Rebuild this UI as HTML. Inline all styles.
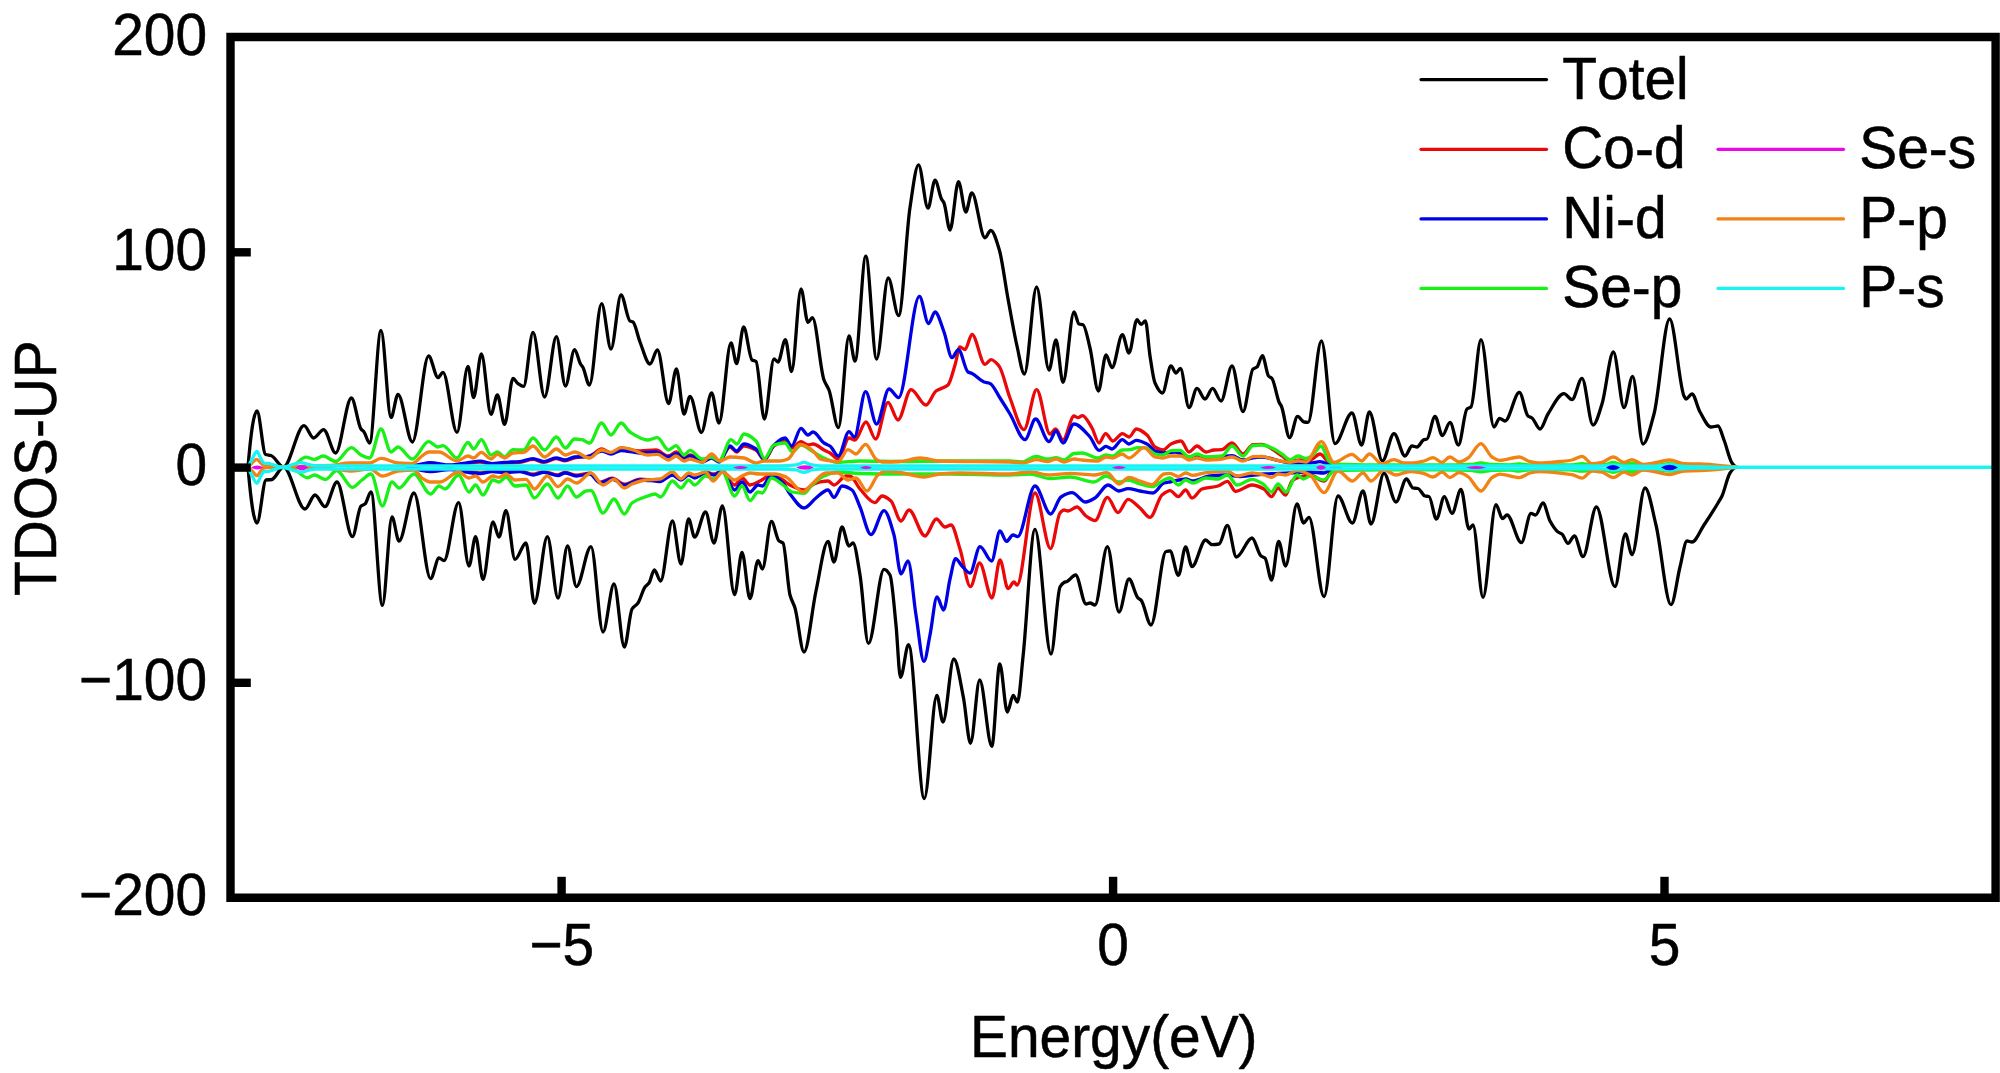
<!DOCTYPE html>
<html><head><meta charset="utf-8"><title>TDOS</title>
<style>
html,body{margin:0;padding:0;background:#fff;}
body{width:2000px;height:1073px;position:relative;overflow:hidden;font-family:"Liberation Sans",sans-serif;}
</style></head><body>
<svg width="2000" height="1073" viewBox="0 0 2000 1073" style="position:absolute;left:0;top:0">
<rect x="0" y="0" width="2000" height="1073" fill="#ffffff"/>
<g fill="none" stroke-linejoin="round" stroke-linecap="round" stroke-width="3.3">
<path stroke="#000000" d="M248,467C251,431 254,411 257,411C259.9,411 262.7,453.5 265.6,454.5C267.4,455.1 269.2,455 271,455.5C275.2,456.7 279.3,467 283.5,467C290.3,467 297.2,425.6 304,425.6C307.2,425.6 310.4,438 313.6,438C316.9,438 320.3,429.6 323.6,429.6C327.6,429.6 331.6,453 335.6,453C340.9,453 346.1,398 351.4,398C354.6,398 357.8,424.5 361,429C362,430.4 363,430.7 364,432C365.9,434.4 367.7,443 369.6,443C373.4,443 377.2,330.4 381,330.4C384.3,330.4 387.7,417.6 391,417.6C393.3,417.6 395.7,394.4 398,394.4C402.8,394.4 407.6,442 412.4,442C417.8,442 423.2,356 428.6,356C431.7,356 434.9,377.6 438,377.6C439.7,377.6 441.3,372.4 443,372.4C447.7,372.4 452.3,432.4 457,432.4C460.7,432.4 464.3,366.4 468,366.4C469.9,366.4 471.7,397.6 473.6,397.6C476.2,397.6 478.8,354 481.4,354C484.6,354 487.8,414.4 491,414.4C493.1,414.4 495.3,395 497.4,395C499.8,395 502.2,424.4 504.6,424.4C507.4,424.4 510.2,378.4 513,378.4C514.7,378.4 516.3,382.5 518,383.6C519.9,384.9 521.7,386.4 523.6,386.4C526.7,386.4 529.9,332.4 533,332.4C536.9,332.4 540.7,397 544.6,397C548.5,397 552.5,336.6 556.4,336.6C559.4,336.6 562.4,386 565.4,386C568.5,386 571.5,349.6 574.6,349.6C576.6,349.6 578.5,360.6 580.5,364C581.3,365.4 582.2,366 583,367.5C585.1,371.3 587.3,385 589.4,385C593.5,385 597.5,303.6 601.6,303.6C604.7,303.6 607.9,349 611,349C614.3,349 617.7,295 621,295C624,295 627,319.4 630,321C631,321.5 632,321.5 633,322C635.3,323.3 637.7,336.2 640,342C643.3,350.4 646.7,364 650,364C652.5,364 654.9,350 657.4,350C661.1,350 664.9,403.6 668.6,403.6C671.2,403.6 673.8,369 676.4,369C678.9,369 681.5,414 684,414C686,414 688,396.4 690,396.4C693.8,396.4 697.6,432.4 701.4,432.4C704.8,432.4 708.2,393 711.6,393C714.1,393 716.5,423 719,423C723,423 727,343 731,343C732.9,343 734.7,363.6 736.6,363.6C738.9,363.6 741.3,327 743.6,327C746.4,327 749.2,358.3 752,360C753.3,360.8 754.7,360.6 756,361.5C758.8,363.3 761.6,419 764.4,419C767.6,419 770.8,359 774,359C775.3,359 776.7,362 778,362C780.5,362 782.9,339.6 785.4,339.6C787.5,339.6 789.5,371.6 791.6,371.6C794.7,371.6 797.9,289 801,289C803.3,289 805.7,322.4 808,322.4C809.5,322.4 810.9,317.6 812.4,317.6C816.3,317.6 820.1,369.4 824,380C825.7,384.6 827.3,385.7 829,390C832.1,398.1 835.3,427.6 838.4,427.6C841.9,427.6 845.5,336 849,336C851,336 853,361 855,361C858.6,361 862.2,256.2 865.8,256.2C869.4,256.2 873,359 876.6,359C880.5,359 884.4,278 888.2,278C891.7,278 895.1,315.6 898.6,315.6C902.4,315.6 906.2,232.1 910,207.5C912.8,189.2 915.7,164.8 918.5,164.8C921.7,164.8 924.8,208.2 928,208.2C930.3,208.2 932.7,180.2 935,180.2C937.2,180.2 939.3,194.7 941.5,199C942.3,200.6 943.2,201.2 944,203C946,207.4 948,230 950,230C952.8,230 955.7,181.7 958.5,181.7C960.9,181.7 963.4,212 965.8,212C967.8,212 969.8,192.8 971.8,192.8C976.2,192.8 980.6,237.8 985,237.8C986.9,237.8 988.8,230.3 990.7,230.3C993.6,230.3 996.4,240.3 999.2,249.5C1002,258.4 1004.8,281 1007.5,296C1010.7,313.3 1013.8,332.2 1017,346C1019.5,356.8 1021.9,374 1024.4,374C1028.5,374 1032.5,287 1036.6,287C1040.7,287 1044.9,370 1049,370C1051.3,370 1053.7,340 1056,340C1058.3,340 1060.7,382.4 1063,382.4C1066.7,382.4 1070.3,312 1074,312C1075.7,312 1077.3,323.4 1079,324C1080.3,324.5 1081.7,324.3 1083,324.8C1085.3,325.6 1087.7,338.7 1090,348C1092.8,359.2 1095.6,391 1098.4,391C1100.9,391 1103.5,355 1106,355C1108,355 1110,367.6 1112,367.6C1115.5,367.6 1118.9,334.6 1122.4,334.6C1124.6,334.6 1126.8,353 1129,353C1131.7,353 1134.3,319.6 1137,319.6C1138.3,319.6 1139.7,324.4 1141,324.4C1142.5,324.4 1143.9,321 1145.4,321C1146.9,321 1148.5,346.3 1150,356C1151.7,366.6 1153.3,379.3 1155,383C1157.5,388.5 1159.9,393 1162.4,393C1165.3,393 1168.1,366 1171,366C1172.7,366 1174.3,373 1176,373C1177.5,373 1178.9,368.4 1180.4,368.4C1183.3,368.4 1186.1,407.6 1189,407.6C1191.7,407.6 1194.3,388.4 1197,388.4C1199.7,388.4 1202.3,399 1205,399C1207.5,399 1210.1,388.4 1212.6,388.4C1215.4,388.4 1218.2,401 1221,401C1224.7,401 1228.3,366 1232,366C1235.7,366 1239.3,411.6 1243,411.6C1246.3,411.6 1249.7,371.7 1253,369C1254.3,367.9 1255.7,368 1257,367C1258.8,365.6 1260.6,355.6 1262.4,355.6C1264.4,355.6 1266.5,373.7 1268.5,376C1269.7,377.3 1270.8,377.2 1272,378.5C1274.3,381.1 1276.7,396.8 1279,402C1279.8,403.9 1280.7,404.6 1281.5,406.5C1284.2,412.7 1286.9,437.6 1289.6,437.6C1292.3,437.6 1294.9,416.4 1297.6,416.4C1299.7,416.4 1301.9,421.6 1304,422C1305.3,422.2 1306.7,422.4 1308,422.4C1312.5,422.4 1316.9,341 1321.4,341C1325.9,341 1330.5,443.6 1335,443.6C1340.7,443.6 1346.3,413 1352,413C1355.2,413 1358.4,445 1361.6,445C1364.2,445 1366.8,412 1369.4,412C1373.7,412 1378.1,461 1382.4,461C1386.3,461 1390.1,433.6 1394,433.6C1397.7,433.6 1401.3,456 1405,456C1407.3,456 1409.7,446 1412,446C1413.7,446 1415.3,447 1417,447C1419.3,447 1421.7,440.3 1424,439.6C1425,439.3 1426,439.3 1427,439C1429.7,438.1 1432.3,416.4 1435,416.4C1437.5,416.4 1439.9,435.6 1442.4,435.6C1444.9,435.6 1447.5,422.4 1450,422.4C1452.8,422.4 1455.6,445 1458.4,445C1461.3,445 1464.1,411.3 1467,409C1468.3,407.9 1469.7,408.1 1471,407C1474.3,404.2 1477.7,339.6 1481,339.6C1485.3,339.6 1489.7,427 1494,427C1495.9,427 1497.7,418.4 1499.6,418.4C1501.4,418.4 1503.2,421 1505,421C1509.8,421 1514.6,392.4 1519.4,392.4C1522.3,392.4 1525.1,413.8 1528,416C1529.3,417 1530.7,417.1 1532,418C1534.7,419.9 1537.3,429 1540,429C1542.7,429 1545.3,418.1 1548,414C1553.3,405.7 1558.7,393.6 1564,393.6C1566.7,393.6 1569.3,399.6 1572,399.6C1575.3,399.6 1578.7,378.4 1582,378.4C1585.7,378.4 1589.3,425 1593,425C1596,425 1599,413.1 1602,404C1605.8,392.4 1609.6,352 1613.4,352C1616.9,352 1620.5,407.6 1624,407.6C1626.9,407.6 1629.7,376.4 1632.6,376.4C1636.1,376.4 1639.5,444 1643,444C1646.7,444 1650.3,427.5 1654,414C1659.2,394.8 1664.4,319 1669.6,319C1674.4,319 1679.2,386.1 1684,396C1684.7,397.4 1685.3,399 1686,399C1688,399 1690,394 1692,394C1694.7,394 1697.3,407.4 1700,412C1703.7,418.3 1707.3,427 1711,427C1713.3,427 1715.7,426 1718,426C1720,426 1722,434.9 1724,440C1726.7,446.8 1729.3,459.2 1732,463C1733.3,464.9 1734.7,466.5 1736,467"/>
<path stroke="#000000" d="M248,467C251,502.2 254,523 257,523C260,523 263,480.5 266,480C267.9,479.7 269.9,479.8 271.8,479.5C275.7,478.9 279.6,467 283.5,467C290.7,467 297.8,509 305,509C308.3,509 311.7,495 315,495C318.3,495 321.7,506.6 325,506.6C329,506.6 333,482 337,482C342.1,482 347.3,536.6 352.4,536.6C355.3,536.6 358.1,508.3 361,506C362.3,504.9 363.7,505 365,504C367,502.5 369,492 371,492C374.8,492 378.6,605.4 382.4,605.4C385.6,605.4 388.8,517 392,517C394.3,517 396.7,541 399,541C404,541 409,493 414,493C419.5,493 425.1,578.6 430.6,578.6C433.4,578.6 436.2,558 439,558C440.7,558 442.3,560.6 444,560.6C448.9,560.6 453.7,502.6 458.6,502.6C462.1,502.6 465.5,566 469,566C471.2,566 473.4,536.6 475.6,536.6C478.1,536.6 480.5,579.4 483,579.4C486.3,579.4 489.7,522 493,522C495,522 497,537 499,537C501.3,537 503.7,510.6 506,510.6C509,510.6 512,559.4 515,559.4C518.7,559.4 522.3,543 526,543C528.8,543 531.6,603.4 534.4,603.4C538.7,603.4 543.1,536.6 547.4,536.6C550.9,536.6 554.5,598 558,598C561.2,598 564.4,546 567.6,546C570.5,546 573.5,586.6 576.4,586.6C581.3,586.6 586.1,546.6 591,546.6C595,546.6 599,632 603,632C606.7,632 610.3,584 614,584C617.5,584 620.9,647 624.4,647C626.9,647 629.5,613.1 632,609C634,605.8 636,605.8 638,603C640.3,599.8 642.7,590.1 645,587C646.3,585.2 647.7,584.8 649,583C650.8,580.5 652.6,570 654.4,570C656.5,570 658.5,581 660.6,581C664.5,581 668.5,521 672.4,521C675.3,521 678.1,564 681,564C683.5,564 686.1,519 688.6,519C690.6,519 692.6,537 694.6,537C698.3,537 701.9,512 705.6,512C708.4,512 711.2,543 714,543C716.8,543 719.6,506 722.4,506C726.5,506 730.5,594.6 734.6,594.6C737.1,594.6 739.5,552.4 742,552.4C744.7,552.4 747.3,598.6 750,598.6C752.7,598.6 755.3,560.6 758,560.6C759.5,560.6 760.9,569 762.4,569C765.4,569 768.4,521.4 771.4,521.4C773.9,521.4 776.5,539 779,541C780.3,542 781.7,541.8 783,543C785.3,545 787.7,586.2 790,595C791.7,601.3 793.3,602.5 795,608C798,617.9 801,652 804,652C808,652 812,609.2 816,591C820,572.8 824,541.4 828,541.4C830,541.4 832,562 834,562C836.7,562 839.3,527 842,527C844.3,527 846.7,546 849,546C850.3,546 851.7,543 853,543C855.3,543 857.7,561.5 860,575C862.8,591.3 865.6,643.4 868.4,643.4C873.6,643.4 878.8,569.4 884,569.4C886,569.4 888,571.6 890,575C892,578.4 894,605.4 896,625C897.5,639.7 899,677.4 900.5,677.4C903.2,677.4 905.8,644.6 908.5,644.6C913.8,644.6 919,798.5 924.3,798.5C928.5,798.5 932.6,695.5 936.8,695.5C938.9,695.5 940.9,722 943,722C946.6,722 950.2,659 953.8,659C957,659 960.3,681.8 963.5,698C965.8,709.7 968.2,743.3 970.5,743.3C973.6,743.3 976.6,680 979.7,680C983.7,680 987.8,746.3 991.8,746.3C994.5,746.3 997.1,664 999.8,664C1002.3,664 1004.8,712 1007.3,712C1009.3,712 1011.2,695.5 1013.2,695.5C1014.6,695.5 1016.1,702 1017.5,702C1019.3,702 1021.2,673.7 1023,657C1027,620.6 1031,529.4 1035,529.4C1040.3,529.4 1045.7,654 1051,654C1054,654 1057,592.4 1060,587C1061.3,584.6 1062.7,583.2 1064,582.5C1065,582 1066,581.9 1067,581.5C1069.9,580.3 1072.7,575 1075.6,575C1079.1,575 1082.5,604 1086,604C1087.3,604 1088.7,603 1090,603C1091.7,603 1093.3,605 1095,605C1099.1,605 1103.3,546.6 1107.4,546.6C1111.3,546.6 1115.1,612 1119,612C1122.3,612 1125.7,579 1129,579C1132,579 1135,595.2 1138,598C1139,598.9 1140,599 1141,600C1144.3,603.2 1147.7,625 1151,625C1156,625 1161,552.5 1166,551.5C1167.3,551.2 1168.7,551 1170,551C1172.8,551 1175.6,575.4 1178.4,575.4C1180.8,575.4 1183.2,547 1185.6,547C1187.7,547 1189.9,566.6 1192,566.6C1196.5,566.6 1201.1,540 1205.6,540C1207.7,540 1209.9,544.6 1212,544.6C1214.3,544.6 1216.7,544.4 1219,544C1221.8,543.6 1224.6,525.4 1227.4,525.4C1230.4,525.4 1233.4,557 1236.4,557C1241.6,557 1246.8,538 1252,538C1255,538 1258,553.8 1261,556C1262.3,557 1263.7,556.9 1265,558C1267.2,559.8 1269.4,580 1271.6,580C1273.9,580 1276.3,541.4 1278.6,541.4C1280.9,541.4 1283.3,566 1285.6,566C1289.4,566 1293.2,504 1297,504C1299.2,504 1301.4,523 1303.6,523C1305.4,523 1307.2,517.4 1309,517.4C1314,517.4 1319,596.6 1324,596.6C1328.7,596.6 1333.3,496 1338,496C1342.8,496 1347.6,523 1352.4,523C1355.9,523 1359.5,491 1363,491C1365.7,491 1368.3,524 1371,524C1375.3,524 1379.7,473.4 1384,473.4C1388,473.4 1392,502 1396,502C1399.5,502 1402.9,479 1406.4,479C1408.6,479 1410.8,487.6 1413,488C1414.7,488.3 1416.3,488.2 1418,488.5C1420.3,488.9 1422.7,495.5 1425,496C1426.3,496.3 1427.7,496.2 1429,496.5C1431.5,497 1433.9,519 1436.4,519C1439.1,519 1441.7,496.6 1444.4,496.6C1446.9,496.6 1449.5,513.4 1452,513.4C1455,513.4 1458,489.4 1461,489.4C1463.7,489.4 1466.3,529 1469,529C1470.3,529 1471.7,525 1473,525C1476.3,525 1479.7,597.4 1483,597.4C1487.3,597.4 1491.7,504.6 1496,504.6C1498.1,504.6 1500.3,518.6 1502.4,518.6C1503.9,518.6 1505.5,515 1507,515C1511.8,515 1516.6,542.6 1521.4,542.6C1524.6,542.6 1527.8,513.4 1531,513.4C1532.5,513.4 1534.1,515 1535.6,515C1538.1,515 1540.5,503 1543,503C1545.3,503 1547.7,516.8 1550,521C1552.7,525.8 1555.3,530.1 1558,532C1559.3,532.9 1560.7,533 1562,534C1564,535.5 1566,543.4 1568,543.4C1570.1,543.4 1572.3,536 1574.4,536C1577.3,536 1580.1,556.6 1583,556.6C1587.5,556.6 1591.9,507 1596.4,507C1602.6,507 1608.8,586.6 1615,586.6C1618.5,586.6 1621.9,534 1625.4,534C1627.6,534 1629.8,554.6 1632,554.6C1636.3,554.6 1640.7,488 1645,488C1648.7,488 1652.3,510.1 1656,525C1661,545.4 1666,604.6 1671,604.6C1674,604.6 1677,578.8 1680,567C1682.3,557.8 1684.7,541 1687,541C1688.7,541 1690.3,542 1692,542C1696,542 1700,531 1704,525C1708.7,518.1 1713.3,510.8 1718,503C1719.3,500.8 1720.7,498.8 1722,496C1724.7,490.4 1727.3,476.9 1730,473C1732,470.1 1734,467.4 1736,467"/>
<path stroke="#EA0808" d="M408,467.8C412,466.9 416,466 420,465.2C423.3,464.5 426.7,463.4 430,463.4C436.7,463.4 443.3,465.8 450,465.8C456,465.8 462,464.1 468,463.4C472,462.9 476,462 480,462C484,462 488,464.4 492,464.4C496,464.4 500,463.5 504,463.2C509.3,462.8 514.7,462.8 520,462.4C524.3,462 528.7,459.4 533,459.4C536.7,459.4 540.3,462.4 544,462.4C548,462.4 552,458.6 556,458.6C559,458.6 562,460.8 565,460.8C568.2,460.8 571.4,458.4 574.6,457.8C579.7,456.9 584.9,457 590,456C593.9,455.2 597.7,449 601.6,449C604.7,449 607.9,453 611,453C614.3,453 617.7,448 621,448C627.3,448 633.7,451 640,451C645.3,451 650.7,450 656,450C660,450 664,456 668,456C670.8,456 673.6,452 676.4,452C678.9,452 681.5,458 684,458C686,458 688,455 690,455C694,455 698,461 702,461C705.2,461 708.4,457 711.6,457C714.1,457 716.5,461 719,461C722.7,461 726.3,447 730,447C732.2,447 734.4,452 736.6,452C739.1,452 741.5,446 744,446C748,446 752,447.8 756,450C758.8,451.5 761.6,460 764.4,460C767.6,460 770.8,448.2 774,446C777.7,443.4 781.3,441 785,441C787.2,441 789.4,448 791.6,448C794.7,448 797.9,441.6 801,441.6C803.3,441.6 805.7,445 808,445C809.7,445 811.3,444 813,444C816.7,444 820.3,448.1 824,450C826,451 828,451.8 830,453C832.8,454.6 835.6,459 838.4,459C841.9,459 845.5,438 849,438C851,438 853,440 855,440C858.7,440 862.3,422 866,422C869.2,422 872.4,439 875.6,439C879.7,439 883.9,402.4 888,402.4C891.3,402.4 894.7,420 898,420C902.3,420 906.7,389.6 911,389.6C916,389.6 921,405 926,405C929.3,405 932.7,393.5 936,391C940,388 944,388.6 948,385C950.3,382.9 952.7,372.5 955,365C956.7,359.7 958.3,347 960,347C961.7,347 963.3,349.6 965,349.6C967.3,349.6 969.7,334.4 972,334.4C976.3,334.4 980.7,364.4 985,364.4C987,364.4 989,359.6 991,359.6C993.7,359.6 996.3,362.8 999,366C1002.7,370.5 1006.3,388.6 1010,398C1014.7,409.9 1019.3,429.6 1024,429.6C1028.2,429.6 1032.4,389.6 1036.6,389.6C1041.1,389.6 1045.5,434 1050,434C1051.9,434 1053.7,429 1055.6,429C1058.1,429 1060.5,440 1063,440C1066.7,440 1070.3,416 1074,416C1075.3,416 1076.7,417.6 1078,417.6C1079.5,417.6 1080.9,415.6 1082.4,415.6C1085.6,415.6 1088.8,422.8 1092,428C1094.3,431.8 1096.7,443 1099,443C1101.2,443 1103.4,433.6 1105.6,433.6C1108.1,433.6 1110.5,441 1113,441C1116.1,441 1119.3,433.6 1122.4,433.6C1124.6,433.6 1126.8,437 1129,437C1131.5,437 1133.9,429 1136.4,429C1139.9,429 1143.5,432 1147,435C1149.7,437.2 1152.3,445.4 1155,447C1157.7,448.6 1160.3,450 1163,450C1165.7,450 1168.3,445.2 1171,444C1174.3,442.5 1177.7,441 1181,441C1183.7,441 1186.3,452 1189,452C1191.7,452 1194.3,446 1197,446C1200,446 1203,452 1206,452C1208.7,452 1211.3,450.2 1214,450C1216.7,449.8 1219.3,449.8 1222,449.6C1225.3,449.3 1228.7,443 1232,443C1235.7,443 1239.3,454 1243,454C1246.3,454 1249.7,444.7 1253,444.6C1256,444.5 1259,444.4 1262,444.4C1265.3,444.4 1268.7,447.1 1272,449C1275.3,450.9 1278.7,453.8 1282,456C1284.7,457.8 1287.3,461 1290,461C1293.3,461 1296.7,460 1300,460C1303.3,460 1306.7,460 1310,460C1313.3,460 1316.7,454 1320,454C1324,454 1328,465.2 1332,466C1334.7,466.6 1337.3,467 1340,467"/>
<path stroke="#EA0808" d="M408,467C412,467.8 416,468.5 420,469.2C423.3,469.8 426.7,470.8 430,470.8C436.7,470.8 443.3,468.8 450,468.8C456,468.8 462,470.9 468,471.6C472,472.1 476,472.8 480,472.8C484,472.8 488,470.8 492,470.8C496,470.8 500,471.6 504,471.6C509.3,471.6 514.7,470.8 520,470.8C524.3,470.8 528.7,474.2 533,474.2C536.7,474.2 540.3,471.6 544,471.6C548.7,471.6 553.3,474.8 558,474.8C560.3,474.8 562.7,472.2 565,472.2C568.8,472.2 572.6,475.2 576.4,475.2C580.9,475.2 585.5,473.2 590,473.2C593.3,473.2 596.7,482.2 600,482.2C604,482.2 608,478.2 612,478.2C616.1,478.2 620.3,484.2 624.4,484.2C629.6,484.2 634.8,479.2 640,479.2C645,479.2 650,479.8 655,480.2C656.7,480.3 658.3,480.7 660,480.7C664.1,480.7 668.3,474.2 672.4,474.2C675.3,474.2 678.1,479.2 681,479.2C683.5,479.2 686.1,474.2 688.6,474.2C690.6,474.2 692.6,477.2 694.6,477.2C698.3,477.2 701.9,472 705.6,472C708.4,472 711.2,474 714,474C716.8,474 719.6,471 722.4,471C726.5,471 730.5,485 734.6,485C737.1,485 739.5,478 742,478C744.7,478 747.3,485 750,485C753.3,485 756.7,482.5 760,481C763.8,479.3 767.6,475 771.4,475C775.3,475 779.1,477.9 783,480C785.3,481.3 787.7,483.8 790,485C794.7,487.3 799.3,490 804,490C807.3,490 810.7,485.4 814,484C816,483.2 818,482.4 820,482C822.7,481.5 825.3,481 828,481C830,481 832,485 834,485C838,485 842,476 846,476C847.3,476 848.7,476 850,476C853.3,476 856.7,485.4 860,489C865,494.4 870,502.6 875,502.6C877.3,502.6 879.7,496 882,496C885,496 888,498.4 891,501C894.3,503.9 897.7,521 901,521C903.7,521 906.3,510 909,510C914.3,510 919.7,536 925,536C928.8,536 932.6,519 936.4,519C939.3,519 942.1,527 945,527C947,527 949,525 951,525C954,525 957,539.8 960,549C963.5,559.6 966.9,586.6 970.4,586.6C973.5,586.6 976.5,563 979.6,563C983.7,563 987.9,598 992,598C994.7,598 997.3,560 1000,560C1002.7,560 1005.3,588.6 1008,588.6C1010,588.6 1012,582 1014,582C1015,582 1016,585 1017,585C1023,585 1029,493 1035,493C1040.2,493 1045.4,548.6 1050.6,548.6C1053.7,548.6 1056.9,516.6 1060,513C1061.3,511.5 1062.7,510 1064,510C1065.3,510 1066.7,511 1068,511C1071,511 1074,507 1077,507C1080,507 1083,514 1086,516C1089,518 1092,520.6 1095,520.6C1099.1,520.6 1103.3,497.4 1107.4,497.4C1110.9,497.4 1114.5,512.6 1118,512.6C1121.3,512.6 1124.7,499.4 1128,499.4C1132,499.4 1136,504.7 1140,508C1143.3,510.7 1146.7,517.4 1150,517.4C1154,517.4 1158,498.3 1162,495C1164.7,492.8 1167.3,490.6 1170,490.6C1172.8,490.6 1175.6,496.6 1178.4,496.6C1180.8,496.6 1183.2,490 1185.6,490C1187.7,490 1189.9,498 1192,498C1195.3,498 1198.7,490.1 1202,489C1207.3,487.3 1212.7,487.5 1218,486C1221.1,485.1 1224.3,481.4 1227.4,481.4C1230.1,481.4 1232.9,491.4 1235.6,491.4C1241.1,491.4 1246.5,485 1252,485C1256,485 1260,486.9 1264,489C1266.5,490.3 1269.1,496.6 1271.6,496.6C1273.7,496.6 1275.9,488 1278,488C1280.5,488 1283.1,495 1285.6,495C1287.7,495 1289.9,482.8 1292,481C1294.7,478.8 1297.3,477.8 1300,477C1303.3,476 1306.7,475 1310,475C1314.7,475 1319.3,481 1324,481C1326.7,481 1329.3,473.8 1332,467"/>
<path stroke="#0000E6" d="M408,467C412,466.1 416,465.2 420,464.4C423.3,463.7 426.7,462.6 430,462.6C436.7,462.6 443.3,465 450,465C456,465 462,463.3 468,462.6C472,462.1 476,461.2 480,461.2C484,461.2 488,463.6 492,463.6C496,463.6 500,462.7 504,462.4C509.3,462 514.7,462 520,461.6C524.3,461.2 528.7,458.6 533,458.6C536.7,458.6 540.3,461.6 544,461.6C548,461.6 552,457.8 556,457.8C559,457.8 562,460 565,460C568.2,460 571.4,457.2 574.6,457C579.1,456.7 583.5,456.8 588,456.5C592.5,456.2 597.1,451 601.6,451C604.7,451 607.9,454 611,454C614.3,454 617.7,450.5 621,450.5C627.3,450.5 633.7,453 640,453C645.3,453 650.7,452 656,452C660,452 664,457 668,457C670.8,457 673.6,453.6 676.4,453.6C678.9,453.6 681.5,459 684,459C686,459 688,456 690,456C694,456 698,462 702,462C705.2,462 708.4,458 711.6,458C714.1,458 716.5,462 719,462C722.7,462 726.3,446 730,446C732.2,446 734.4,451 736.6,451C739.1,451 741.5,444 744,444C748,444 752,446.5 756,449C758.8,450.8 761.6,459 764.4,459C767.6,459 770.8,447.9 774,445C777.7,441.7 781.3,438 785,438C787.2,438 789.4,446 791.6,446C794.7,446 797.9,428.4 801,428.4C803.3,428.4 805.7,435 808,435C809.7,435 811.3,432 813,432C816.7,432 820.3,440.6 824,443C826,444.3 828,444.6 830,446C832.8,447.9 835.6,456 838.4,456C841.9,456 845.5,431.6 849,431.6C850.8,431.6 852.6,437 854.4,437C858.1,437 861.9,391.6 865.6,391.6C869.3,391.6 872.9,424 876.6,424C880.7,424 884.9,389 889,389C892.2,389 895.4,397.6 898.6,397.6C905.5,397.6 912.5,296.4 919.4,296.4C922.5,296.4 925.5,323.6 928.6,323.6C930.7,323.6 932.9,312 935,312C938,312 941,324.1 944,332C946.7,339 949.3,357.6 952,357.6C954.1,357.6 956.3,349.6 958.4,349.6C961.6,349.6 964.8,370.1 968,372C969.3,372.8 970.7,372.9 972,373.5C976,375.4 980,380.6 984,382C986,382.7 988,382.7 990,383.5C993.3,384.8 996.7,392.9 1000,398C1003.3,403.1 1006.7,408.5 1010,414C1015,422.2 1020,439.6 1025,439.6C1028.5,439.6 1032.1,419 1035.6,419C1040.1,419 1044.5,441.6 1049,441.6C1051.3,441.6 1053.7,431 1056,431C1058.3,431 1060.7,443 1063,443C1066.7,443 1070.3,424 1074,424C1079.3,424 1084.7,431.2 1090,437C1093,440.2 1096,450.4 1099,450.4C1101.3,450.4 1103.7,446.4 1106,446.4C1108,446.4 1110,449 1112,449C1115.5,449 1118.9,439.6 1122.4,439.6C1124.6,439.6 1126.8,444 1129,444C1131.5,444 1133.9,440.4 1136.4,440.4C1139.9,440.4 1143.5,442.2 1147,444C1149.7,445.3 1152.3,450 1155,451C1157.7,452 1160.3,453 1163,453C1167,453 1171,452 1175,452C1179.7,452 1184.3,457 1189,457C1191.7,457 1194.3,455 1197,455C1200,455 1203,457.5 1206,457.5C1211.3,457.5 1216.7,456.9 1222,456.5C1225.3,456.3 1228.7,455.6 1232,455.6C1235.7,455.6 1239.3,460 1243,460C1247,460 1251,457.9 1255,457.5C1257.3,457.3 1259.7,457 1262,457C1268,457 1274,459.7 1280,461C1283.3,461.7 1286.7,463 1290,463C1296.7,463 1303.3,463 1310,463C1313.3,463 1316.7,461.6 1320,461.6C1324,461.6 1328,465.3 1332,466C1334.7,466.5 1337.3,466.9 1340,467"/>
<path stroke="#0000E6" d="M408,467.8C412,468.6 416,469.3 420,470C423.3,470.6 426.7,471.6 430,471.6C436.7,471.6 443.3,469.6 450,469.6C456,469.6 462,471.7 468,472.4C472,472.9 476,473.6 480,473.6C484,473.6 488,471.6 492,471.6C496,471.6 500,472.4 504,472.4C509.3,472.4 514.7,471.6 520,471.6C524.3,471.6 528.7,475 533,475C536.7,475 540.3,472.4 544,472.4C548.7,472.4 553.3,475.6 558,475.6C560.3,475.6 562.7,473 565,473C568.8,473 572.6,476 576.4,476C580.9,476 585.5,474 590,474C593.3,474 596.7,483 600,483C604,483 608,479 612,479C616.1,479 620.3,485 624.4,485C629.6,485 634.8,480 640,480C645,480 650,480.6 655,481C656.7,481.1 658.3,481.5 660,481.5C664.1,481.5 668.3,475 672.4,475C675.3,475 678.1,480 681,480C683.5,480 686.1,475 688.6,475C690.6,475 692.6,478 694.6,478C698.3,478 701.9,473 705.6,473C708.4,473 711.2,475 714,475C716.8,475 719.6,471 722.4,471C726.5,471 730.5,490 734.6,490C737.1,490 739.5,482 742,482C744.7,482 747.3,492 750,492C752.7,492 755.3,485 758,485C759.5,485 760.9,486 762.4,486C765.4,486 768.4,475 771.4,475C775.3,475 779.1,479.2 783,483C785.3,485.3 787.7,491.1 790,494C794.7,499.8 799.3,508 804,508C808,508 812,501 816,498C820,495 824,490 828,490C830,490 832,497.4 834,497.4C836.7,497.4 839.3,486 842,486C845.3,486 848.7,487.7 852,490C854.7,491.8 857.3,500.9 860,507C863.7,515.4 867.3,534.6 871,534.6C875.3,534.6 879.7,510.6 884,510.6C887.3,510.6 890.7,523.4 894,535C896.3,543.1 898.7,574 901,574C903.3,574 905.7,561 908,561C910.7,561 913.3,598.4 916,615C918.7,631.6 921.3,661.4 924,661.4C926,661.4 928,644.7 930,635C932.3,623.7 934.7,597 937,597C939.2,597 941.4,610 943.6,610C945.7,610 947.9,587.8 950,579C951.9,571.3 953.7,558.6 955.6,558.6C957.7,558.6 959.9,563.9 962,566C964.7,568.7 967.3,573 970,573C973.3,573 976.7,546.6 980,546.6C983.9,546.6 987.7,561 991.6,561C994.4,561 997.2,531 1000,531C1002.1,531 1004.3,541.4 1006.4,541.4C1008.6,541.4 1010.8,535 1013,535C1014.5,535 1016.1,536.6 1017.6,536.6C1023.4,536.6 1029.2,486 1035,486C1040.2,486 1045.4,514 1050.6,514C1054.1,514 1057.5,499.2 1061,497C1064.7,494.6 1068.3,492.6 1072,492.6C1076.5,492.6 1081.1,502 1085.6,502C1088.7,502 1091.9,499.8 1095,498C1099.3,495.5 1103.7,485 1108,485C1111.7,485 1115.3,491 1119,491C1122,491 1125,488.6 1128,488.6C1132,488.6 1136,490.3 1140,491C1144.3,491.8 1148.7,493 1153,493C1156.7,493 1160.3,484 1164,483C1166,482.5 1168,482.3 1170,482C1175.3,481.1 1180.7,479 1186,479C1188,479 1190,481 1192,481C1198,481 1204,476.6 1210,476C1215.7,475.5 1221.3,475 1227,475C1231.3,475 1235.7,476.5 1240,476.5C1248,476.5 1256,474.5 1264,474C1272.7,473.5 1281.3,473.4 1290,473C1296.7,472.7 1303.3,472 1310,472C1314.7,472 1319.3,473 1324,473C1326.7,473 1329.3,468.6 1332,468C1334.7,467.4 1337.3,467 1340,467"/>
<path stroke="#18F016" d="M284,467C286.7,467 289.3,466.5 292,466C296.6,465.1 301.3,457.1 305.9,457.1C308.7,457.1 311.5,459.4 314.3,459.4C317.3,459.4 320.2,456 323.2,456C327.3,456 331.5,461.5 335.6,461.5C340.9,461.5 346.1,447.6 351.4,447.6C354.6,447.6 357.8,453.5 361,455C363.9,456.4 366.7,458 369.6,458C373.4,458 377.2,429 381,429C384.3,429 387.7,452 391,452C393.3,452 395.7,447 398,447C402.8,447 407.6,459 412.4,459C417.8,459 423.2,441.6 428.6,441.6C431.7,441.6 434.9,447 438,447C439.7,447 441.3,445.6 443,445.6C447.7,445.6 452.3,458 457,458C460.7,458 464.3,442.4 468,442.4C469.9,442.4 471.7,449 473.6,449C476.2,449 478.8,439.6 481.4,439.6C484.6,439.6 487.8,455 491,455C493.1,455 495.3,452 497.4,452C499.8,452 502.2,457 504.6,457C507.4,457 510.2,449.6 513,449.6C516.5,449.6 520.1,450 523.6,450C526.7,450 529.9,438 533,438C536.9,438 540.7,450 544.6,450C548.5,450 552.5,437 556.4,437C559.4,437 562.4,448 565.4,448C568.5,448 571.5,439 574.6,439C577.1,439 579.5,439.3 582,439.6C584.5,439.9 586.9,443 589.4,443C593.5,443 597.5,423 601.6,423C604.7,423 607.9,435 611,435C614.3,435 617.7,423 621,423C624,423 627,430.1 630,432C636,435.9 642,440 648,440C651.1,440 654.3,437.6 657.4,437.6C661.1,437.6 664.9,450 668.6,450C671.1,450 673.5,445.6 676,445.6C678.7,445.6 681.3,455 684,455C686,455 688,450.4 690,450.4C694,450.4 698,459 702,459C705.2,459 708.4,457 711.6,457C714.1,457 716.5,461 719,461C723,461 727,439.6 731,439.6C733,439.6 735,444 737,444C739.3,444 741.7,434 744,434C748,434 752,437.2 756,441C758.8,443.6 761.6,458.4 764.4,458.4C767.6,458.4 770.8,446 774,445C777.7,443.8 781.3,443 785,443C787.5,443 789.9,452 792.4,452C795.3,452 798.1,445 801,445C804.7,445 808.3,448.9 812,451C816,453.3 820,456.4 824,458C828.7,459.9 833.3,462.4 838,462.4C845.3,462.4 852.7,461 860,461C873.3,461 886.7,461.5 900,461.5C916.7,461.5 933.3,461 950,461C970,461 990,461 1010,461C1014,461 1018,462 1022,462C1026.7,462 1031.3,456.4 1036,456.4C1040,456.4 1044,459 1048,459C1050.7,459 1053.3,457.6 1056,457.6C1058.7,457.6 1061.3,460 1064,460C1067.3,460 1070.7,453.9 1074,453.5C1076.7,453.2 1079.3,453 1082,453C1087.3,453 1092.7,458 1098,458C1100.7,458 1103.3,455 1106,455C1108.3,455 1110.7,456 1113,456C1116,456 1119,450.3 1122,450C1124.7,449.8 1127.3,449.8 1130,449.6C1132.7,449.4 1135.3,447.6 1138,447.6C1140.7,447.6 1143.3,447.8 1146,448C1149,448.3 1152,453.4 1155,454C1157.7,454.6 1160.3,455 1163,455C1165.7,455 1168.3,450.7 1171,450.6C1174,450.5 1177,450.4 1180,450.4C1183,450.4 1186,457 1189,457C1191.7,457 1194.3,454 1197,454C1200,454 1203,457 1206,457C1211.3,457 1216.7,456.7 1222,456C1225.3,455.6 1228.7,446 1232,446C1235.7,446 1239.3,456 1243,456C1246.3,456 1249.7,445.8 1253,445.5C1256,445.2 1259,445 1262,445C1265.3,445 1268.7,446.7 1272,448C1275.3,449.3 1278.7,451.8 1282,454C1284.7,455.7 1287.3,459.6 1290,459.6C1292.7,459.6 1295.3,456 1298,456C1300.7,456 1303.3,458.5 1306,458.5C1308,458.5 1310,457.2 1312,456C1315,454.2 1318,446 1321,446C1323.7,446 1326.3,458.7 1329,461C1330.7,462.5 1332.3,463.8 1334,464C1337.7,464.3 1341.3,464.4 1345,464.5C1356.7,464.8 1368.3,465 1380,465C1400,465 1420,465 1440,465C1450,465 1460,464.8 1470,464.5C1473.7,464.4 1477.3,463 1481,463C1484.7,463 1488.3,464.4 1492,464.5C1498,464.7 1504,464.8 1510,464.8C1513,464.8 1516,463.8 1519,463.8C1522.7,463.8 1526.3,465 1530,465C1543.3,465 1556.7,465 1570,465C1574,465 1578,463.6 1582,463.6C1586,463.6 1590,465 1594,465C1597.7,465 1601.3,464.8 1605,464.5C1607.7,464.3 1610.3,462.5 1613,462.5C1616,462.5 1619,464.8 1622,464.8C1625.3,464.8 1628.7,463.2 1632,463.2C1635.3,463.2 1638.7,465.2 1642,465.2C1647.3,465.2 1652.7,465.1 1658,465C1661.7,464.9 1665.3,463.6 1669,463.6C1673.3,463.6 1677.7,465 1682,465.3C1688,465.7 1694,465.8 1700,466C1712,466.4 1724,466.8 1736,467"/>
<path stroke="#18F016" d="M284,467C286.7,467 289.3,467.5 292,468C297.2,469 302.4,477.8 307.6,477.8C309.8,477.8 312.1,475 314.3,475C318,475 321.8,479.5 325.5,479.5C329.2,479.5 333,470.5 336.7,470.5C341.9,470.5 347.2,487.4 352.4,487.4C355.6,487.4 358.8,482.3 362,480C365,477.9 368,474 371,474C374.8,474 378.6,506 382.4,506C385.6,506 388.8,482 392,482C394.3,482 396.7,488 399,488C404,488 409,474 414,474C419.5,474 425.1,494 430.6,494C433.4,494 436.2,486 439,486C441,486 443,489 445,489C449.5,489 454.1,475 458.6,475C462.1,475 465.5,492 469,492C471.2,492 473.4,485 475.6,485C478.1,485 480.5,495 483,495C486.3,495 489.7,480 493,480C495,480 497,482 499,482C501.3,482 503.7,477 506,477C509,477 512,486 515,486C518.7,486 522.3,485 526,485C528.8,485 531.6,498 534.4,498C538.7,498 543.1,484 547.4,484C550.9,484 554.5,498 558,498C561.2,498 564.4,486 567.6,486C570.5,486 573.5,497 576.4,497C579.6,497 582.8,491.4 586,491C587.7,490.8 589.3,490.6 591,490.6C595,490.6 599,513 603,513C606.7,513 610.3,499 614,499C617.5,499 620.9,514 624.4,514C626.9,514 629.5,504.9 632,503C636.7,499.6 641.3,498.2 646,496.6C649,495.6 652,494 655,494C656.9,494 658.7,497 660.6,497C664.5,497 668.5,481 672.4,481C675.3,481 678.1,488 681,488C683.5,488 686.1,480 688.6,480C690.6,480 692.6,485 694.6,485C698.3,485 701.9,476 705.6,476C708.4,476 711.2,479 714,479C716.8,479 719.6,472 722.4,472C726.5,472 730.5,496 734.6,496C737.1,496 739.5,486 742,486C744.7,486 747.3,500.6 750,500.6C752.7,500.6 755.3,492 758,492C759.5,492 760.9,493 762.4,493C765.4,493 768.4,478 771.4,478C775.3,478 779.1,482.4 783,485C786,487 789,491.4 792,492C796,492.8 800,493.4 804,493.4C806.7,493.4 809.3,487.4 812,485C816,481.5 820,477.7 824,476C828.7,474 833.3,472 838,472C845.3,472 852.7,473.3 860,473.5C873.3,473.8 886.7,474 900,474C916.7,474 933.3,474 950,474C970,474 990,475 1010,475C1016.7,475 1023.3,474 1030,474C1036.7,474 1043.3,478.6 1050,478.6C1056.7,478.6 1063.3,477 1070,477C1078,477 1086,482 1094,482C1098,482 1102,476 1106,476C1110.3,476 1114.7,482 1119,482C1122,482 1125,480 1128,480C1132,480 1136,482.9 1140,484C1144,485.1 1148,486.6 1152,486.6C1156,486.6 1160,481.6 1164,480C1166,479.2 1168,478 1170,478C1172.8,478 1175.6,485 1178.4,485C1180.8,485 1183.2,480 1185.6,480C1188.1,480 1190.5,483 1193,483C1197.3,483 1201.7,478 1206,478C1210,478 1214,479 1218,479C1221.1,479 1224.3,475 1227.4,475C1230.6,475 1233.8,485 1237,485C1242,485 1247,479.4 1252,479.4C1255.7,479.4 1259.3,481.9 1263,484C1265.9,485.7 1268.7,492 1271.6,492C1273.7,492 1275.9,484 1278,484C1280.7,484 1283.3,492 1286,492C1289.7,492 1293.3,475 1297,475C1299.2,475 1301.4,479 1303.6,479C1305.7,479 1307.9,476 1310,476C1314.7,476 1319.3,480 1324,480C1327.3,480 1330.7,471.4 1334,471C1337.7,470.6 1341.3,470.4 1345,470.3C1356.7,470 1368.3,469.8 1380,469.8C1400,469.8 1420,469.8 1440,469.8C1450,469.8 1460,470 1470,470.3C1473.7,470.4 1477.3,471.8 1481,471.8C1484.7,471.8 1488.3,470.4 1492,470.3C1498,470.1 1504,470 1510,470C1513,470 1516,471 1519,471C1522.7,471 1526.3,469.8 1530,469.8C1543.3,469.8 1556.7,469.8 1570,469.8C1574,469.8 1578,471.2 1582,471.2C1586,471.2 1590,469.8 1594,469.8C1597.7,469.8 1601.3,470 1605,470.3C1607.7,470.5 1610.3,472.3 1613,472.3C1616,472.3 1619,470 1622,470C1625.3,470 1628.7,471.6 1632,471.6C1635.3,471.6 1638.7,469.6 1642,469.6C1647.3,469.6 1652.7,469.7 1658,469.8C1661.7,469.9 1665.3,471.2 1669,471.2C1673.3,471.2 1677.7,469.8 1682,469.5C1688,469.1 1694,469.1 1700,468.8C1712,468.3 1724,467.7 1736,467"/>
<path stroke="#F28214" d="M248,467C249.3,465.5 250.7,464.2 252,463C253.6,461.6 255.1,459.4 256.7,459.4C258.1,459.4 259.6,461.8 261,463C262.3,464.1 263.7,466.4 265,466.5C271.3,466.9 277.7,467 284,467C299.3,467 314.7,466.4 330,465.5C336.7,465.1 343.3,463 350,463C356.7,463 363.3,463 370,463C373.7,463 377.3,458.4 381,458.4C386.7,458.4 392.3,462.6 398,463C402.7,463.3 407.3,463.6 412,463.6C415.3,463.6 418.7,458.2 422,456C424.2,454.5 426.4,452 428.6,452C432.1,452 435.5,452 439,452C445,452 451,461 457,461C460.7,461 464.3,456 468,456C469.9,456 471.7,458 473.6,458C476.2,458 478.8,452.4 481.4,452.4C484.6,452.4 487.8,459 491,459C493.1,459 495.3,454.4 497.4,454.4C499.8,454.4 502.2,458 504.6,458C507.4,458 510.2,453.3 513,453C516.5,452.6 520.1,452.8 523.6,452.4C526.7,452.1 529.9,446 533,446C536.9,446 540.7,457 544.6,457C548.5,457 552.5,449 556.4,449C559.4,449 562.4,455 565.4,455C568.5,455 571.5,452 574.6,452C579.5,452 584.5,458 589.4,458C593.5,458 597.5,450 601.6,450C604.7,450 607.9,452.4 611,452.4C614.3,452.4 617.7,447.6 621,447.6C624.7,447.6 628.3,448.7 632,449.6C637.3,450.8 642.7,455 648,455C651.1,455 654.3,454.4 657.4,454.4C661.1,454.4 664.9,460 668.6,460C671.1,460 673.5,456 676,456C678.7,456 681.3,461 684,461C686,461 688,459 690,459C694,459 698,462.4 702,462.4C705.2,462.4 708.4,454 711.6,454C714.4,454 717.2,461 720,461C723.3,461 726.7,457 730,457C734.7,457 739.3,457.4 744,458C748,458.5 752,463 756,463C758.7,463 761.3,461 764,461C769.3,461 774.7,461 780,461C782.7,461 785.3,460.1 788,459C792,457.4 796,444.5 800,444.5C803.3,444.5 806.7,446.6 810,448.5C811.7,449.5 813.3,451.3 815,453C816.7,454.7 818.3,458.4 820,459C822.7,459.9 825.3,460.1 828,460.5C831.3,461.1 834.7,462 838,462C841.3,462 844.7,449.6 848,449.6C850.7,449.6 853.3,454 856,454C859.2,454 862.4,444.4 865.6,444.4C869.1,444.4 872.5,456.5 876,459C878,460.4 880,462 882,462C888,462 894,461.8 900,461.5C906.7,461.2 913.3,458 920,458C926.7,458 933.3,460.8 940,461C963.3,461.7 986.7,461.3 1010,462C1014.7,462.1 1019.3,463 1024,463C1028,463 1032,459.6 1036,459.6C1040,459.6 1044,461.6 1048,461.6C1050.7,461.6 1053.3,459 1056,459C1058.7,459 1061.3,462 1064,462C1067.3,462 1070.7,459 1074,459C1076.7,459 1079.3,459.8 1082,460C1087.3,460.5 1092.7,461 1098,461C1100.7,461 1103.3,457 1106,457C1108.3,457 1110.7,458 1113,458C1116,458 1119,454 1122,454C1124.3,454 1126.7,458 1129,458C1134,458 1139,447.6 1144,447.6C1147.7,447.6 1151.3,456.2 1155,457C1157.7,457.6 1160.3,458 1163,458C1165.7,458 1168.3,456 1171,456C1174.3,456 1177.7,456 1181,456C1183.7,456 1186.3,460 1189,460C1191.7,460 1194.3,458 1197,458C1200,458 1203,460 1206,460C1211.3,460 1216.7,459.5 1222,459C1225.3,458.7 1228.7,457 1232,457C1235.7,457 1239.3,461 1243,461C1246.3,461 1249.7,456.7 1253,456.6C1256,456.5 1259,456.4 1262,456.4C1265.3,456.4 1268.7,458.3 1272,459C1278,460.3 1284,462.4 1290,462.4C1292.7,462.4 1295.3,461 1298,461C1300.7,461 1303.3,462 1306,462C1311.1,462 1316.3,441.6 1321.4,441.6C1325.6,441.6 1329.8,462.4 1334,462.4C1340,462.4 1346,454.4 1352,454.4C1355.2,454.4 1358.4,461 1361.6,461C1364.2,461 1366.8,454 1369.4,454C1373.6,454 1377.8,464 1382,464C1386,464 1390,459.6 1394,459.6C1397.3,459.6 1400.7,463 1404,463C1406.7,463 1409.3,463 1412,463C1416,463 1420,461.9 1424,461C1427,460.3 1430,457.6 1433,457.6C1436,457.6 1439,462.4 1442,462.4C1444.7,462.4 1447.3,457 1450,457C1453,457 1456,462 1459,462C1462,462 1465,459.9 1468,458C1472.3,455.3 1476.7,443.6 1481,443.6C1484.7,443.6 1488.3,454.7 1492,457C1494.7,458.6 1497.3,460.4 1500,460.4C1506.5,460.4 1512.9,457 1519.4,457C1522.9,457 1526.5,460.9 1530,461.6C1533.3,462.3 1536.7,463 1540,463C1546.7,463 1553.3,462.1 1560,461.5C1564,461.1 1568,460.8 1572,460C1575.3,459.4 1578.7,456.4 1582,456.4C1585.3,456.4 1588.7,463.6 1592,463.6C1595.3,463.6 1598.7,463 1602,462.4C1605.8,461.7 1609.6,457 1613.4,457C1616.9,457 1620.5,462.4 1624,462.4C1626.7,462.4 1629.3,459.6 1632,459.6C1635.7,459.6 1639.3,464.4 1643,464.4C1646.7,464.4 1650.3,463.6 1654,463C1659.2,462.2 1664.4,460 1669.6,460C1674.4,460 1679.2,463.4 1684,463.6C1689.3,463.8 1694.7,463.8 1700,464C1710,464.4 1720,465.5 1730,466.4C1732,466.6 1734,466.8 1736,467"/>
<path stroke="#F28214" d="M248,467C249.3,468.4 250.7,469.7 252,471C253.7,472.6 255.3,475.6 257,475.6C258.3,475.6 259.7,472.3 261,471C262.3,469.7 263.7,467.6 265,467.5C271.3,467.1 277.7,467 284,467C299.3,467 314.7,467.6 330,468.5C336.7,468.9 343.3,471 350,471C356.7,471 363.3,469 370,469C374.1,469 378.3,476 382.4,476C387.6,476 392.8,471.5 398,471C403.3,470.4 408.7,470 414,470C416.7,470 419.3,476.2 422,478C424.7,479.8 427.3,482 430,482C433.3,482 436.7,482 440,482C446.2,482 452.4,472 458.6,472C462.1,472 465.5,478 469,478C471.2,478 473.4,476 475.6,476C478.1,476 480.5,482 483,482C486.3,482 489.7,476 493,476C495,476 497,477.4 499,477.4C501.3,477.4 503.7,474 506,474C509,474 512,480 515,480C518.7,480 522.3,479.4 526,479.4C528.8,479.4 531.6,489 534.4,489C538.7,489 543.1,476 547.4,476C550.9,476 554.5,486.6 558,486.6C561.2,486.6 564.4,479 567.6,479C570.5,479 573.5,483 576.4,483C581.3,483 586.1,473 591,473C595,473 599,485 603,485C606.7,485 610.3,479.4 614,479.4C617.5,479.4 620.9,488 624.4,488C626.9,488 629.5,485 632,484C636.7,482.2 641.3,480.5 646,480C650.7,479.5 655.3,479.6 660,479C664.1,478.5 668.3,472 672.4,472C675.3,472 678.1,479 681,479C683.5,479 686.1,473 688.6,473C690.6,473 692.6,475 694.6,475C698.3,475 701.9,472 705.6,472C708.1,472 710.5,481 713,481C716.1,481 719.3,472 722.4,472C726.5,472 730.5,480 734.6,480C737.1,480 739.5,477.1 742,476C744.7,474.8 747.3,473 750,473C753.3,473 756.7,474 760,474C765,474 770,474 775,474C778.7,474 782.3,475.5 786,477C791.7,479.3 797.3,492 803,492C806,492 809,486.5 812,484C816.7,480.1 821.3,473 826,473C830,473 834,473 838,473C841.3,473 844.7,480 848,480C850.7,480 853.3,478 856,478C859.7,478 863.3,491 867,491C870.7,491 874.3,477.7 878,475C880.7,473.1 883.3,471 886,471C890.7,471 895.3,471.9 900,472.5C908,473.6 916,477 924,477C929.3,477 934.7,474.4 940,474C946.7,473.5 953.3,473 960,473C976.7,473 993.3,474 1010,474C1016.7,474 1023.3,472 1030,472C1036.7,472 1043.3,475 1050,475C1056.7,475 1063.3,473.4 1070,473.4C1078,473.4 1086,475 1094,475C1098.3,475 1102.7,472.6 1107,472.6C1111,472.6 1115,484 1119,484C1122.3,484 1125.7,477.4 1129,477.4C1132.7,477.4 1136.3,479.9 1140,481C1144,482.3 1148,484.6 1152,484.6C1156,484.6 1160,474.7 1164,474C1166,473.7 1168,473.4 1170,473.4C1172.8,473.4 1175.6,476.6 1178.4,476.6C1180.8,476.6 1183.2,473 1185.6,473C1188.1,473 1190.5,475.4 1193,475.4C1197.3,475.4 1201.7,473.1 1206,472.6C1213.1,471.8 1220.3,471 1227.4,471C1230.6,471 1233.8,476 1237,476C1242,476 1247,473 1252,473C1256,473 1260,474.1 1264,475C1266.5,475.6 1269.1,477.4 1271.6,477.4C1273.7,477.4 1275.9,474 1278,474C1280.5,474 1283.1,475 1285.6,475C1289.4,475 1293.2,470.6 1297,470.6C1301.3,470.6 1305.7,472.7 1310,475C1314.7,477.5 1319.3,492.6 1324,492.6C1328.7,492.6 1333.3,471 1338,471C1342.8,471 1347.6,481 1352.4,481C1355.9,481 1359.5,473 1363,473C1365.7,473 1368.3,481 1371,481C1375.3,481 1379.7,470 1384,470C1388,470 1392,475 1396,475C1399.7,475 1403.3,472.4 1407,472C1408.7,471.8 1410.3,471.6 1412,471.6C1416,471.6 1420,472.7 1424,473.6C1427,474.3 1430,477 1433,477C1436,477 1439,472.2 1442,472.2C1444.7,472.2 1447.3,477.6 1450,477.6C1453,477.6 1456,472.6 1459,472.6C1462,472.6 1465,474.7 1468,476.6C1472.3,479.3 1476.7,491 1481,491C1484.7,491 1488.3,479.9 1492,477.6C1494.7,476 1497.3,474.2 1500,474.2C1506.5,474.2 1512.9,477.6 1519.4,477.6C1522.9,477.6 1526.5,473.7 1530,473C1533.3,472.3 1536.7,471.6 1540,471.6C1546.7,471.6 1553.3,472.5 1560,473.1C1564,473.5 1568,473.8 1572,474.6C1575.3,475.2 1578.7,478.2 1582,478.2C1585.3,478.2 1588.7,471 1592,471C1595.3,471 1598.7,471.6 1602,472.2C1605.8,472.9 1609.6,477.6 1613.4,477.6C1616.9,477.6 1620.5,472.2 1624,472.2C1626.7,472.2 1629.3,475 1632,475C1635.7,475 1639.3,470.2 1643,470.2C1646.7,470.2 1650.3,471 1654,471.6C1659.2,472.4 1664.4,474.6 1669.6,474.6C1674.4,474.6 1679.2,471.2 1684,471C1689.3,470.8 1694.7,470.8 1700,470.6C1710,470.2 1720,469.1 1730,468.2C1732,468 1734,467.8 1736,467.6"/>
<path stroke="#18F4F4" d="M248,467.4C249.3,464.5 250.7,461.8 252,459.4C253.6,456.5 255.2,451.5 256.8,451.5C258.2,451.5 259.6,456.7 261,458.9C262,460.5 263,462.9 264,463.1C265.8,463.4 267.7,463.3 269.5,463.6C271.3,463.9 273.2,464.8 275,465.4C277,466 279,467.1 281,467.1C283,467.1 285,466.7 287,466.4C289.7,466 292.3,464.4 295,463.8C297.1,463.3 299.3,462.7 301.4,462.7C303.6,462.7 305.8,463.9 308,464.4C310.3,464.9 312.7,465.7 315,465.7C343.3,465.8 371.7,465.8 400,465.8C526.7,465.8 653.3,465.8 780,465.8C785.3,465.8 790.7,465.5 796,464.9C798.7,464.6 801.3,462.4 804,462.4C806.7,462.4 809.3,464.5 812,464.9C814.7,465.3 817.3,465.8 820,465.8C980,465.8 1140,465.8 1300,465.8C1333.3,465.8 1366.7,465.9 1400,465.9C1433.3,465.9 1466.7,465.9 1500,465.9C1532.7,466 1565.3,466 1598,466C1600.7,466 1603.3,465.8 1606,465.6C1608.3,465.4 1610.7,464.8 1613,464.8C1615.3,464.8 1617.7,465.4 1620,465.6C1622.7,465.8 1625.3,466.1 1628,466.1C1637,466.1 1646,466.1 1655,466.1C1657.3,466.1 1659.7,465.8 1662,465.6C1664.5,465.4 1667,464.7 1669.5,464.7C1672,464.7 1674.5,465.3 1677,465.6C1679.3,465.9 1681.7,466.2 1684,466.3C1692.7,466.6 1701.3,466.6 1710,466.8C1718.7,467 1727.3,467.4 1736,467.4C1822.7,467.4 1909.3,467.4 1996,467.4"/>
<path stroke="#18F4F4" d="M248,467.4C249.3,470.3 250.7,473 252,475.4C253.6,478.3 255.2,483.3 256.8,483.3C258.2,483.3 259.6,478.1 261,475.9C262,474.3 263,471.9 264,471.7C265.8,471.4 267.7,471.5 269.5,471.2C271.3,470.9 273.2,470 275,469.4C277,468.8 279,467.7 281,467.7C283,467.7 285,468.1 287,468.4C289.7,468.8 292.3,470.4 295,471C297.1,471.5 299.3,472.1 301.4,472.1C303.6,472.1 305.8,470.9 308,470.4C310.3,469.9 312.7,469.1 315,469.1C343.3,469 371.7,469 400,469C526.7,469 653.3,469 780,469C785.3,469 790.7,469.3 796,469.9C798.7,470.2 801.3,472.4 804,472.4C806.7,472.4 809.3,470.3 812,469.9C814.7,469.5 817.3,469 820,469C980,469 1140,469 1300,469C1333.3,469 1366.7,468.9 1400,468.9C1433.3,468.9 1466.7,468.9 1500,468.8C1532.7,468.8 1565.3,468.8 1598,468.8C1600.7,468.8 1603.3,469 1606,469.2C1608.3,469.4 1610.7,470 1613,470C1615.3,470 1617.7,469.4 1620,469.2C1622.7,469 1625.3,468.7 1628,468.7C1637,468.7 1646,468.6 1655,468.6C1657.3,468.6 1659.7,469 1662,469.2C1664.5,469.4 1667,470.1 1669.5,470.1C1672,470.1 1674.5,469.5 1677,469.2C1679.3,468.9 1681.7,468.6 1684,468.5C1692.7,468.2 1701.3,468.2 1710,468C1718.7,467.8 1727.3,467.4 1736,467.4C1822.7,467.4 1909.3,467.4 1996,467.4"/>
<path fill="#E808E8" stroke="none" d="M251,467.4 Q257.2,463.4 263.4,467.4 Q257.2,471.4 251,467.4 Z"/>
<path fill="#E808E8" stroke="none" d="M295.5,467.4 Q301.8,461.9 308,467.4 Q301.8,472.9 295.5,467.4 Z"/>
<path fill="#E808E8" stroke="none" d="M733,467.4 Q740.5,464.4 748,467.4 Q740.5,470.4 733,467.4 Z"/>
<path fill="#E808E8" stroke="none" d="M796,467.4 Q805,462.9 814,467.4 Q805,471.9 796,467.4 Z"/>
<path fill="#E808E8" stroke="none" d="M860,467.4 Q866,464.4 872,467.4 Q866,470.4 860,467.4 Z"/>
<path fill="#E808E8" stroke="none" d="M1112,467.4 Q1119,464.4 1126,467.4 Q1119,470.4 1112,467.4 Z"/>
<path fill="#E808E8" stroke="none" d="M1260,467.4 Q1268,464.4 1276,467.4 Q1268,470.4 1260,467.4 Z"/>
<path fill="#E808E8" stroke="none" d="M1316,467.4 Q1321,462.9 1326,467.4 Q1321,471.9 1316,467.4 Z"/>
<path fill="#E808E8" stroke="none" d="M1466,467.4 Q1476,464.4 1486,467.4 Q1476,470.4 1466,467.4 Z"/>
<path fill="#0000E6" stroke="none" d="M1606,467.4 Q1613,462.4 1620,467.4 Q1613,472.4 1606,467.4 Z"/>
<path fill="#0000E6" stroke="none" d="M1661,467.4 Q1669.5,461.9 1678,467.4 Q1669.5,472.9 1661,467.4 Z"/>
</g>
<g stroke="#000" stroke-width="8.4" fill="none" stroke-linecap="butt">
<path d="M230.5,32.8 V902 M1995.6,32.8 V902 M226.3,37 H1999.8 M226.3,897.8 H1999.8"/>
<line x1="230" y1="252.3" x2="250.8" y2="252.3"/>
<line x1="230" y1="467.6" x2="250.8" y2="467.6"/>
<line x1="230" y1="682.8" x2="250.8" y2="682.8"/>
<line x1="561.6" y1="898" x2="561.6" y2="876.8"/>
<line x1="1113.1" y1="898" x2="1113.1" y2="876.8"/>
<line x1="1664.5" y1="898" x2="1664.5" y2="876.8"/>
</g>
<g fill="none" stroke-linecap="round" stroke-width="3.2">
<line stroke="#000000" x1="1421" y1="79.6" x2="1546.5" y2="79.6"/>
<line stroke="#EA0808" x1="1421" y1="149.3" x2="1546.5" y2="149.3"/>
<line stroke="#0000E6" x1="1421" y1="218.9" x2="1546.5" y2="218.9"/>
<line stroke="#18F016" x1="1421" y1="288.4" x2="1546.5" y2="288.4"/>
<line stroke="#E808E8" x1="1718" y1="149.3" x2="1843.5" y2="149.3"/>
<line stroke="#F28214" x1="1718" y1="218.9" x2="1843.5" y2="218.9"/>
<line stroke="#18F4F4" x1="1718" y1="288.4" x2="1843.5" y2="288.4"/>
</g>
<g font-family="'Liberation Sans', sans-serif" font-size="56px" fill="#000" stroke="#000" stroke-width="0.5" stroke-linejoin="round" style="font-kerning:none;font-feature-settings:'kern' 0">
<text transform="translate(1562.3,98.8) scale(1.015,1.06)" text-anchor="start">Totel</text>
<text transform="translate(1562.3,168.3) scale(1.015,1.06)" text-anchor="start">Co-d</text>
<text transform="translate(1562.3,237.9) scale(1.015,1.06)" text-anchor="start">Ni-d</text>
<text transform="translate(1562.3,307.4) scale(1.015,1.06)" text-anchor="start">Se-p</text>
<text transform="translate(1859.3,168.3) scale(1.015,1.06)" text-anchor="start">Se-s</text>
<text transform="translate(1859.3,237.9) scale(1.015,1.06)" text-anchor="start">P-p</text>
<text transform="translate(1859.3,307.4) scale(1.015,1.06)" text-anchor="start">P-s</text>
<text transform="translate(207,54.5) scale(1.015,1.06)" text-anchor="end">200</text>
<text transform="translate(207,269.7) scale(1.015,1.06)" text-anchor="end">100</text>
<text transform="translate(207,484.8) scale(1.015,1.06)" text-anchor="end">0</text>
<text transform="translate(207,700) scale(1.015,1.06)" text-anchor="end">−100</text>
<text transform="translate(207,915.2) scale(1.015,1.06)" text-anchor="end">−200</text>
<text transform="translate(561.8,965.3) scale(1.015,1.06)" text-anchor="middle">−5</text>
<text transform="translate(1113.1,965.3) scale(1.015,1.06)" text-anchor="middle">0</text>
<text transform="translate(1664.6,965.3) scale(1.015,1.06)" text-anchor="middle">5</text>
<text transform="translate(1113.8,1057.4) scale(1.015,1.06)" text-anchor="middle">Energy(eV)</text>
<text transform="translate(56.0,468.1) rotate(-90) scale(1.015,1.06)" text-anchor="middle">TDOS-UP</text>
</g>
</svg>
</body></html>
